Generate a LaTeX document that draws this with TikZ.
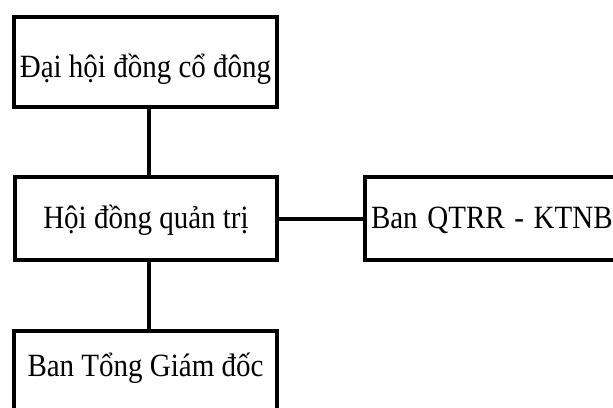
\documentclass[tikz,border=0pt]{standalone}
\usepackage{fontspec}
\setmainfont{Liberation Serif}
\newcommand{\tall}[1]{\scalebox{1.0}[1.12]{#1}}
\begin{document}
\begin{tikzpicture}[x=1pt,y=-1pt,
  box/.style={draw=black, line width=4pt, inner sep=0pt, outer sep=0pt, fill=white,
    font=\fontsize{29}{34}\selectfont},
  link/.style={draw=black, line width=4pt}]
\clip (0,0) rectangle (613,407);
\fill[white] (0,0) rectangle (613,407);
\coordinate (cx) at (149,0);
% top box: x 14-277, y 17-107, baseline 77
\node[box, anchor=north west, minimum width=263pt, text height=60pt, text depth=30pt] (dhd) at (14,17) {\tall{Đại hội đồng cổ đông}};
% middle box: x 15-277, y 177-260, baseline 228
\node[box, anchor=north west, minimum width=262pt, text height=51pt, text depth=32pt] (hdqt) at (15,177) {\tall{Hội đồng quản trị}};
% right box: x 365-..., y 177-260
\node[box, anchor=north west, minimum width=262pt, text height=51pt, text depth=32pt, inner xsep=6pt, text width=250pt, align=left] (ban) at (365,177) {\tall{Ban QTRR - KTNB}};
% bottom box: x 14-277, y 331-...
\node[box, anchor=north west, minimum width=263pt, text height=45pt, text depth=45pt] (tgd) at (14,331) {\tall{Ban Tổng Giám đốc}};
\draw[link] (dhd.south -| cx) -- (hdqt.north -| cx);
\draw[link] (hdqt.east) -- (ban.west);
\draw[link] (hdqt.south -| cx) -- (tgd.north -| cx);
\end{tikzpicture}
\end{document}
